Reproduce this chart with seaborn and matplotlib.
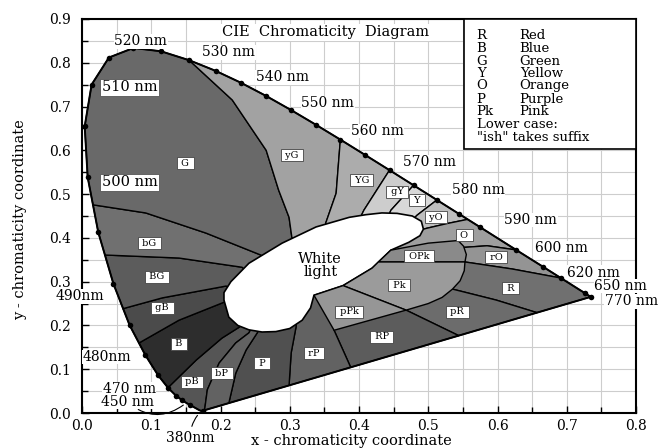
import numpy as np
import pandas as pd
import matplotlib
matplotlib.use("Agg")
import matplotlib.pyplot as plt
from matplotlib.patches import Rectangle
from matplotlib.ticker import MultipleLocator, FormatStrFormatter
import seaborn as sns

# ---------------- data ----------------
wavelengths = [380, 390, 400, 410, 420, 430, 440,
               450, 455, 460, 465, 470, 475, 480, 485, 490, 495,
               500, 505, 510, 515, 520, 525, 530, 535, 540, 545,
               550, 555, 560, 565, 570, 575, 580, 585, 590, 595,
               600, 605, 610, 615, 620, 625, 630, 635, 640, 645,
               650, 660, 670, 680, 690, 700]
locus_x = [0.1741, 0.1738, 0.1733, 0.1726, 0.1714, 0.1689, 0.1644,
           0.1566, 0.1510, 0.1440, 0.1355, 0.1241, 0.1096, 0.0913, 0.0687, 0.0454, 0.0235,
           0.0082, 0.0039, 0.0139, 0.0389, 0.0743, 0.1142, 0.1547, 0.1929, 0.2296, 0.2658,
           0.3016, 0.3373, 0.3731, 0.4087, 0.4441, 0.4788, 0.5125, 0.5448, 0.5752, 0.6029,
           0.6270, 0.6482, 0.6658, 0.6801, 0.6915, 0.7006, 0.7079, 0.7140, 0.7190, 0.7230,
           0.7260, 0.7300, 0.7320, 0.7334, 0.7344, 0.7347]
locus_y = [0.0050, 0.0049, 0.0048, 0.0048, 0.0051, 0.0069, 0.0109,
           0.0177, 0.0227, 0.0297, 0.0399, 0.0578, 0.0868, 0.1327, 0.2007, 0.2950, 0.4127,
           0.5384, 0.6548, 0.7502, 0.8120, 0.8338, 0.8262, 0.8059, 0.7816, 0.7543, 0.7243,
           0.6923, 0.6589, 0.6245, 0.5896, 0.5547, 0.5202, 0.4866, 0.4544, 0.4242, 0.3965,
           0.3725, 0.3514, 0.3340, 0.3197, 0.3083, 0.2993, 0.2920, 0.2859, 0.2809, 0.2770,
           0.2740, 0.2700, 0.2680, 0.2666, 0.2656, 0.2653]

dot_wavelengths = [380, 450, 460, 465, 470, 475, 480, 485, 490, 495, 500, 505, 510,
                   515, 520, 525, 530, 535, 540, 545, 550, 555, 560, 565, 570, 575,
                   580, 585, 590, 600, 610, 620, 650, 700]

# region boundaries: points from the white centre outward, then where they end
hub = (0.34, 0.33)
bnd_pB_bP = ([(0.252, 0.215), (0.241, 0.183), (0.222, 0.160), (0.198, 0.114), (0.181, 0.053)], "purple", 0.177)
bnd_B_pB = ([(0.240, 0.215), (0.227, 0.196), (0.202, 0.171), (0.165, 0.121)], "locus", 470)
bnd_gB_B = ([(0.225, 0.255), (0.205, 0.253), (0.140, 0.212)], "locus", 482)
bnd_BG_gB = ([(0.230, 0.280), (0.208, 0.290), (0.116, 0.263)], "locus", 487)
bnd_bG_BG = ([(0.250, 0.310), (0.231, 0.333), (0.140, 0.354)], "locus", 492.8)
bnd_G_bG = ([(0.270, 0.350), (0.258, 0.361), (0.179, 0.411), (0.092, 0.457)], "locus", 497.5)
bnd_yG_G = ([(0.310, 0.380), (0.303, 0.402), (0.299, 0.447), (0.284, 0.509), (0.266, 0.600), (0.217, 0.715)], "locus", 530)
bnd_YG_yG = ([(0.350, 0.410), (0.352, 0.434), (0.367, 0.502)], "locus", 560)
bnd_gY_YG = ([(0.400, 0.440), (0.407, 0.463)], "locus", 570)
bnd_Y_gY = ([(0.440, 0.440), (0.446, 0.463)], "locus", 575)
bnd_yO_Y = ([(0.470, 0.430), (0.484, 0.452)], "locus", 580)
bnd_O_yO = ([(0.470, 0.410), (0.498, 0.422), (0.528, 0.433)], "locus", 587)
bnd_rO_O = ([(0.500, 0.370), (0.540, 0.377), (0.585, 0.382)], "locus", 600)
bnd_R_rO = ([(0.500, 0.345), (0.553, 0.345), (0.621, 0.329)], "locus", 620)
bnd_pR_R = ([(0.500, 0.300), (0.535, 0.283), (0.598, 0.258)], "purple", 0.657)
bnd_RP_pR = ([(0.440, 0.270), (0.468, 0.235)], "purple", 0.544)
bnd_rP_RP = ([(0.360, 0.250), (0.364, 0.189)], "purple", 0.388)
bnd_P_rP = ([(0.310, 0.230), (0.309, 0.196), (0.302, 0.137)], "purple", 0.299)
bnd_bP_P = ([(0.265, 0.220), (0.253, 0.183), (0.237, 0.144), (0.222, 0.091)], "purple", 0.212)

boundary_order = [bnd_pB_bP, bnd_B_pB, bnd_gB_B, bnd_BG_gB, bnd_bG_BG, bnd_G_bG,
                  bnd_yG_G, bnd_YG_yG, bnd_gY_YG, bnd_Y_gY, bnd_yO_Y, bnd_O_yO,
                  bnd_rO_O, bnd_R_rO, bnd_pR_R, bnd_RP_pR, bnd_rP_RP, bnd_P_rP, bnd_bP_P]
region_names = ["pB", "B", "gB", "BG", "bG", "G", "yG", "YG", "gY", "Y", "yO", "O",
                "rO", "R", "pR", "RP", "rP", "P", "bP"]
region_grays = [85, 45, 75, 92, 112, 105, 162, 172, 205, 216, 190, 158,
                148, 112, 108, 92, 98, 80, 98]

white_shape = [(0.205, 0.258), (0.212, 0.219), (0.225, 0.200), (0.241, 0.190), (0.260, 0.185),
               (0.280, 0.186), (0.300, 0.193), (0.318, 0.212), (0.330, 0.240), (0.335, 0.269),
               (0.377, 0.291), (0.419, 0.331), (0.446, 0.372), (0.472, 0.390), (0.488, 0.405),
               (0.493, 0.420), (0.490, 0.438), (0.477, 0.450), (0.455, 0.456), (0.433, 0.457),
               (0.410, 0.453), (0.386, 0.447), (0.338, 0.425), (0.289, 0.388), (0.241, 0.342),
               (0.215, 0.300), (0.205, 0.275)]
pink_grays = [138, 155, 150]
pink_OPk = [(0.428, 0.345), (0.553, 0.345), (0.555, 0.362), (0.551, 0.381), (0.543, 0.394),
            (0.500, 0.388), (0.446, 0.372)]
pink_Pk = [(0.428, 0.345), (0.553, 0.345), (0.552, 0.325), (0.546, 0.302), (0.535, 0.283),
           (0.520, 0.264), (0.500, 0.250), (0.468, 0.235), (0.377, 0.291), (0.419, 0.331)]
pink_pPk = [(0.335, 0.269), (0.377, 0.291), (0.468, 0.235), (0.364, 0.189)]

label_names = ["G", "yG", "YG", "gY", "Y", "yO", "O", "rO", "OPk", "Pk", "R", "pPk",
               "pR", "RP", "rP", "P", "bP", "pB", "B", "gB", "BG", "bG"]
label_x = [0.149, 0.303, 0.404, 0.455, 0.484, 0.511, 0.552, 0.598, 0.487, 0.458, 0.619, 0.386,
           0.542, 0.433, 0.335, 0.260, 0.202, 0.159, 0.140, 0.116, 0.108, 0.097]
label_y = [0.571, 0.589, 0.532, 0.505, 0.486, 0.447, 0.406, 0.356, 0.358, 0.292, 0.285, 0.231,
           0.231, 0.174, 0.137, 0.114, 0.091, 0.071, 0.158, 0.240, 0.311, 0.388]

nm_text = ["520 nm", "530 nm", "540 nm", "550 nm", "560 nm", "570 nm", "580 nm", "590 nm",
           "600 nm", "620 nm", "650 nm", "770 nm", "490nm", "480nm", "470 nm"]
nm_x = [0.085, 0.212, 0.289, 0.355, 0.426, 0.502, 0.572, 0.648, 0.692, 0.739, 0.778, 0.793,
        -0.003, 0.036, 0.068]
nm_y = [0.849, 0.824, 0.767, 0.708, 0.644, 0.573, 0.509, 0.441, 0.377, 0.320, 0.290, 0.255,
        0.267, 0.128, 0.055]
boxed_nm_text = ["510 nm", "500 nm"]
boxed_nm_x = [0.069, 0.069]
boxed_nm_y = [0.744, 0.527]

legend_abbr = ["R", "B", "G", "Y", "O", "P", "Pk"]
legend_full = ["Red", "Blue", "Green", "Yellow", "Orange", "Purple", "Pink"]
legend_notes = ["Lower case:", "\"ish\" takes suffix"]
legend_row_y = [0.863, 0.833, 0.804, 0.776, 0.747, 0.717, 0.689, 0.660, 0.630]

# ---------------- helpers ----------------
x380, y380 = locus_x[0], locus_y[0]
x700, y700 = locus_x[-1], locus_y[-1]


def on_purple(x):
    return y380 + (x - x380) * (y700 - y380) / (x700 - x380)


def end_point(kind, v):
    if kind == "locus":
        return (float(np.interp(v, wavelengths, locus_x)), float(np.interp(v, wavelengths, locus_y)))
    return (v, on_purple(v))


def arc(a, b):
    ka, va = a
    kb, vb = b
    pts = []
    for w, x, y in zip(wavelengths, locus_x, locus_y):
        if ka == "locus" and kb == "locus" and va < w < vb:
            pts.append((x, y))
        elif ka == "locus" and kb == "purple" and w > va:
            pts.append((x, y))
        elif ka == "purple" and kb == "locus" and w < vb:
            pts.append((x, y))
    return pts


def hexgray(g):
    return "#{0:02x}{0:02x}{0:02x}".format(int(g))


# ---------------- figure ----------------
sns.set_theme(style="white")
plt.rcParams["font.family"] = ["DejaVu Serif"]
plt.rcParams["text.color"] = "black"
plt.rcParams["xtick.color"] = "black"
plt.rcParams["ytick.color"] = "black"

fig = plt.figure(figsize=(6.65, 4.48), dpi=100)
ax = fig.add_axes([82 / 665, 35 / 448, 554 / 665, 394 / 448])
ax.set_xlim(0, 0.8)
ax.set_ylim(0, 0.9)
for axis in (ax.xaxis, ax.yaxis):
    axis.set_major_locator(MultipleLocator(0.1))
    axis.set_minor_locator(MultipleLocator(0.05))
    axis.set_major_formatter(FormatStrFormatter("%.1f"))
ax.grid(which="both", color="#cdcdcd", lw=0.8)
ax.set_axisbelow(True)
ax.tick_params(which="both", direction="in", bottom=True, left=True, top=False, right=False,
               width=1.0, labelsize=10)
ax.tick_params(axis="x", pad=4)
ax.tick_params(axis="y", pad=8)
ax.tick_params(which="major", length=5)
ax.tick_params(which="minor", length=4)
for s in ax.spines.values():
    s.set_linewidth(1.5)
    s.set_color("black")

# sectors
n = len(boundary_order)
for i, (name, g) in enumerate(zip(region_names, region_grays)):
    a = boundary_order[i]
    b = boundary_order[(i + 1) % n]
    poly = [hub] + list(a[0]) + [end_point(a[1], a[2])] + arc((a[1], a[2]), (b[1], b[2])) \
        + [end_point(b[1], b[2])] + list(b[0])[::-1]
    px, py = zip(*poly)
    ax.fill(px, py, facecolor=hexgray(g), edgecolor="black", lw=1.0, zorder=2)

# white light
wx, wy = zip(*white_shape)
ax.fill(wx, wy, facecolor="white", edgecolor="black", lw=1.2, zorder=3)

# pink regions
for poly, g in zip([pink_OPk, pink_Pk, pink_pPk], pink_grays):
    px, py = zip(*poly)
    ax.fill(px, py, facecolor=hexgray(g), edgecolor="black", lw=1.0, zorder=4)

# spectral locus outline and dots
locus_df = pd.DataFrame({"x": locus_x + [locus_x[0]], "y": locus_y + [locus_y[0]]})
sns.lineplot(data=locus_df, x="x", y="y", sort=False, estimator=None, color="black",
             lw=1.4, ax=ax, zorder=5)
dots_df = pd.DataFrame({"x": [float(np.interp(w, wavelengths, locus_x)) for w in dot_wavelengths],
                        "y": [float(np.interp(w, wavelengths, locus_y)) for w in dot_wavelengths]})
sns.scatterplot(data=dots_df, x="x", y="y", color="black", s=16, linewidth=0, ax=ax, zorder=6)
ax.set_xlabel("")
ax.set_ylabel("")

# region labels
for name, x, y in zip(label_names, label_x, label_y):
    ax.text(x, y, " " + name + " ", ha="center", va="center", fontsize=7, zorder=8,
            bbox=dict(boxstyle="square,pad=0.15", fc="white", ec="#444444", lw=0.6))

# White light text
ax.text(0.344, 0.337, "White\nlight", ha="center", va="center", fontsize=10.5,
        linespacing=0.95, zorder=8)

# wavelength labels
for t, x, y in zip(nm_text, nm_x, nm_y):
    ax.text(x, y, t, ha="center", va="center", fontsize=10, zorder=8,
            bbox=dict(boxstyle="square,pad=0.03", fc="white", ec="none"))
for t, x, y in zip(boxed_nm_text, boxed_nm_x, boxed_nm_y):
    ax.text(x, y, t, ha="center", va="center", fontsize=10.5, zorder=8,
            bbox=dict(boxstyle="square,pad=0.12", fc="white", ec="#555555", lw=0.6))

ax.annotate("450 nm", xy=(0.148, 0.020), xytext=(0.066, 0.025), ha="center", va="center",
            fontsize=10, zorder=8, annotation_clip=False,
            bbox=dict(boxstyle="square,pad=0.03", fc="white", ec="none"),
            arrowprops=dict(arrowstyle="-", lw=0.8, color="black",
                            connectionstyle="arc3,rad=0.4", shrinkA=0, shrinkB=1))
ax.annotate("380nm", xy=(0.168, -0.003), xytext=(0.157, -0.057), ha="center", va="center",
            fontsize=10, zorder=8, annotation_clip=False,
            arrowprops=dict(arrowstyle="-", lw=0.8, color="black",
                            connectionstyle="arc3,rad=-0.2", shrinkA=1, shrinkB=1))

# title
ax.text(0.352, 0.870, "CIE  Chromaticity  Diagram", ha="center", va="center", fontsize=10.5,
        zorder=8, bbox=dict(boxstyle="square,pad=0.1", fc="white", ec="none"))

# legend box
ax.add_patch(Rectangle((0.552, 0.603), 0.248, 0.297, facecolor="white", edgecolor="black",
                       lw=1.2, zorder=8, clip_on=False))
for i, (a, f) in enumerate(zip(legend_abbr, legend_full)):
    ax.text(0.570, legend_row_y[i], a, ha="left", va="center", fontsize=9.5, zorder=9)
    ax.text(0.632, legend_row_y[i], f, ha="left", va="center", fontsize=9.5, zorder=9)
for j, t in enumerate(legend_notes):
    ax.text(0.570, legend_row_y[len(legend_abbr) + j], t, ha="left", va="center",
            fontsize=9.5, zorder=9)

# axis titles
fig.text(351 / 665, 1 - 441 / 448, "x - chromaticity coordinate", ha="center", va="center",
         fontsize=10.5)
fig.text(20 / 665, 1 - 220 / 448, "y - chromaticity coordinate", ha="center", va="center",
         fontsize=10.5, rotation=90)

fig.savefig("out.png", dpi=100)
